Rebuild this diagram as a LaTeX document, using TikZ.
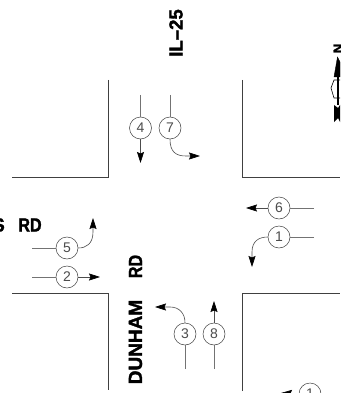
\documentclass[tikz,border=0pt]{standalone}
\usepackage{fontspec}
\setmainfont{Liberation Sans}[BoldFeatures={FakeBold=1.6}]
\usetikzlibrary{arrows.meta}
\tikzset{
 curb/.style={draw=black!75,line width=0.7pt},
 lane/.style={draw=black!55,line width=0.6pt},
 flow/.style={draw=black!70,line width=0.6pt,-{Stealth[length=11pt,width=7pt,inset=1.5pt,color=black]}},
 num/.style={circle,draw=black!75,line width=0.5pt,minimum size=22pt,inner sep=0pt,font=\fontsize{14}{14}\selectfont,text=black!70,fill=white},
 road/.style={font=\bfseries\fontsize{19}{19}\selectfont,inner sep=0pt,text=black}
}
\begin{document}
\begin{tikzpicture}[x=1pt,y=-1pt]
\useasboundingbox (0,0) rectangle (340,393);
\draw[curb] (108,80) -- (108,177) -- (12,177);
\draw[curb] (242,80) -- (242,177) -- (340,177);
\draw[curb] (12,293) -- (108,293) -- (108,390);
\draw[curb] (242,391) -- (242,293) -- (340,293);
\node[num] (n4) at (140.5,128) {4};
\node[num] (n7) at (170,128) {7};
\coordinate (t4) at (140.5,95); \coordinate (h4) at (140.5,163);
\coordinate (t7) at (170,95); \coordinate (h7) at (200,156);
\draw[lane] (t4) -- (n4);
\draw[lane] (t7) -- (n7);
\draw[flow] (n4) -- (h4);
\draw[flow] (n7.south) .. controls (170,152) and (176,156) .. (186,156) -- (h7);
\node[num] (n5) at (67,248) {5};
\node[num] (n2) at (67,277) {2};
\coordinate (t5) at (32,248); \coordinate (h5) at (93,218);
\coordinate (t2) at (32,277); \coordinate (h2) at (100,277);
\draw[lane] (t5) -- (n5);
\draw[lane] (t2) -- (n2);
\draw[flow] (n5.east) .. controls (86,248) and (93,244) .. (93,232) -- (h5);
\draw[flow] (n2) -- (h2);
\node[num] (n6) at (279,208) {6};
\node[num] (n1) at (279,237) {1};
\coordinate (t6) at (314,208); \coordinate (h6) at (246,208);
\coordinate (t1) at (314,237); \coordinate (h1) at (252,267);
\draw[lane] (t6) -- (n6);
\draw[lane] (t1) -- (n1);
\draw[flow] (n6) -- (h6);
\draw[flow] (n1.west) .. controls (259,237) and (252,241) .. (252,252) -- (h1);
\node[num] (n3) at (185,334) {3};
\node[num] (n8) at (214,334) {8};
\coordinate (t3) at (185,369); \coordinate (h3) at (155,307);
\coordinate (t8) at (214,369); \coordinate (h8) at (214,301);
\draw[lane] (t3) -- (n3);
\draw[lane] (t8) -- (n8);
\draw[flow] (n3.north) .. controls (185,313) and (179,307) .. (170,307) -- (h3);
\draw[flow] (n8) -- (h8);
% partly visible movement at the bottom edge
\node[num] (n9) at (310,394) {1};
\coordinate (h9) at (281,393);
\draw[flow] (n9) -- (h9);
% road names
\node[road,rotate=90,xscale=.98] (il) at (176,33) {IL--25};
\node[road,rotate=90] (dun) at (135.5,342) {DUNHAM};
\node[road,rotate=90,xscale=.85] (rd) at (135.5,266.5) {RD};
\node[road,xscale=.85] (rdw) at (30,225) {RD};
\node[road,anchor=east] (s) at (5,225) {S};
% north arrow
\node[font=\bfseries\fontsize{13}{13}\selectfont,rotate=90,inner sep=0pt] (north) at (338,48.5) {N};
\draw[fill=black] (337.5,57) -- (334,77) -- (340,77) -- (340,62) -- cycle;
\draw[line width=0.6pt,fill=white] (340,80) -- (334,80) -- (331,88) -- (334,98) -- (340,98);
\draw[line width=1.4pt] (338,77) -- (338,105);
\fill[black] (334,105) -- (338,108) -- (340,105) -- (340,122) -- (338,118) -- (334,122) -- cycle;
\end{tikzpicture}
\end{document}
